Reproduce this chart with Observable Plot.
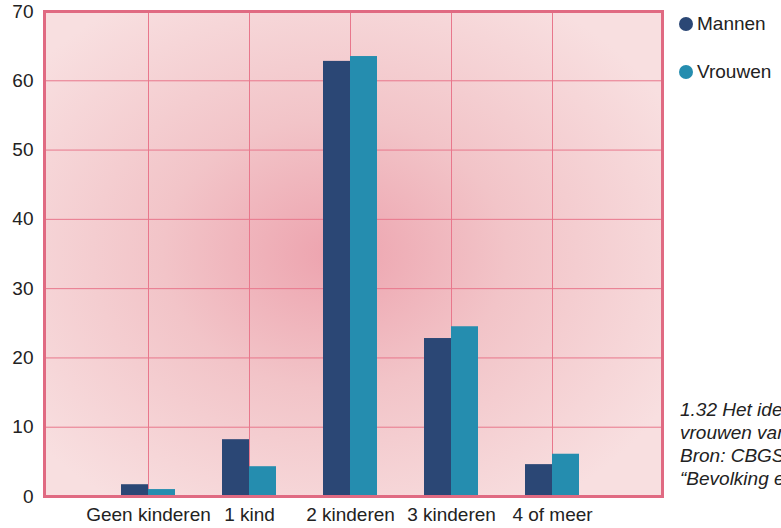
<!DOCTYPE html>
<html>
<head>
<meta charset="utf-8">
<script src="https://cdn.jsdelivr.net/npm/d3@7"></script>
<script src="https://cdn.jsdelivr.net/npm/@observablehq/plot@0.6"></script>
<style>
  html, body { margin: 0; padding: 0; background: #fff; overflow: hidden; }
  #wrap { position: relative; width: 781px; height: 528px; overflow: hidden; font-family: "Liberation Sans", Arial, sans-serif; color: #222; }
  .leg { position: absolute; left: 679px; font-size: 19px; white-space: nowrap; display: flex; align-items: center; }
  .leg span.dot { display: inline-block; width: 14px; height: 14px; border-radius: 50%; margin-right: 4px; }
  #caption { position: absolute; left: 680px; top: 398px; font-size: 19px; font-style: italic; line-height: 23px; white-space: nowrap; }
</style>
</head>
<body>
<div id="wrap">
  <div id="chart"></div>
  <div class="leg" style="top:13px"><span class="dot" style="background:#2b4775"></span>Mannen</div>
  <div class="leg" style="top:61px"><span class="dot" style="background:#258daf"></span>Vrouwen</div>
  <div id="caption">1.32 Het ideale aantal kinderen bij mannen en<br>vrouwen van 20 tot 39 jaar<br>Bron: CBGS, NEGO V<br>“Bevolking en gezin”</div>
</div>
<script>
const categories = ["Geen kinderen", "1 kind", "2 kinderen", "3 kinderen", "4 of meer"];
const mannen = [1.7, 8.2, 62.8, 22.8, 4.6];
const vrouwen = [1.0, 4.3, 63.5, 24.5, 6.1];
const yTicks = [0, 10, 20, 30, 40, 50, 60, 70];
const seriesNames = ["Mannen", "Vrouwen"];
const seriesColors = ["#2b4775", "#258daf"];

const dataM = categories.map((c, i) => ({cat: c, v: mannen[i]}));
const dataV = categories.map((c, i) => ({cat: c, v: vrouwen[i]}));

const pink = "#e8778c";
const font = "'Liberation Sans', Arial, sans-serif";

const plot = Plot.plot({
  width: 781,
  height: 528,
  marginLeft: 44,
  marginRight: 119,
  marginTop: 11,
  marginBottom: 32,
  style: {fontFamily: font, fontSize: "19px", color: "#222", background: "transparent"},
  x: {domain: categories, paddingInner: 0.47, paddingOuter: 0.77, align: 0.478, label: null},
  y: {domain: [0, 70], label: null},
  marks: [
    Plot.frame({fill: "url(#bgGrad)", stroke: "none"}),
    Plot.gridX({stroke: pink, strokeOpacity: 1, strokeWidth: 1}),
    Plot.gridY(yTicks, {stroke: pink, strokeOpacity: 1, strokeWidth: 1}),
    Plot.barY(dataM, {x: "cat", y: "v", fill: seriesColors[0], insetRight: 27}),
    Plot.barY(dataV, {x: "cat", y: "v", fill: seriesColors[1], insetLeft: 27}),
    Plot.axisY(yTicks, {tickSize: 0, tickPadding: 11, fill: "#222", fontSize: 19}),
    Plot.axisX({tickSize: 0, tickPadding: 11, fill: "#222", fontSize: 19}),
    Plot.frame({stroke: "#e06a82", strokeWidth: 3})
  ]
});

const ns = "http://www.w3.org/2000/svg";
const defs = document.createElementNS(ns, "defs");
defs.innerHTML = `<radialGradient id="bgGrad" cx="0.47" cy="0.5" r="0.62" fx="0.47" fy="0.5">
  <stop offset="0" stop-color="#eda3ae"/>
  <stop offset="0.45" stop-color="#f2c4c8"/>
  <stop offset="1" stop-color="#f8dfe0"/>
</radialGradient>`;
plot.insertBefore(defs, plot.firstChild);
document.getElementById("chart").appendChild(plot);
</script>
</body>
</html>
